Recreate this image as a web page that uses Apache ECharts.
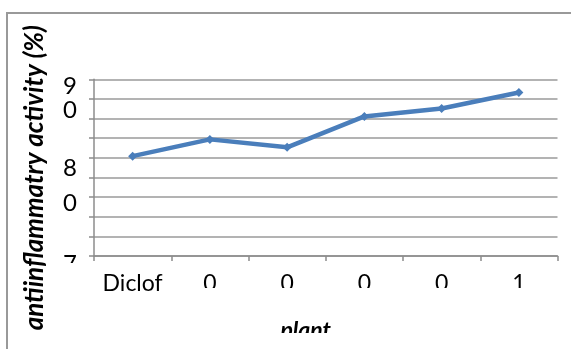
<!DOCTYPE html>
<html>
<head>
<meta charset="utf-8">
<script src="https://cdn.jsdelivr.net/npm/echarts@6/dist/echarts.min.js"></script>
<style>
  html, body { margin: 0; padding: 0; background: #fff; }
  #chart { width: 571px; height: 349px; }
</style>
</head>
<body>
<div id="chart"></div>
<script>
// Anti-inflammatory activity per plant sample
const categories = ['Diclofenac', '0', '0', '0', '0', '1'];
const activity = [81.3, 83.2, 82.3, 85.8, 86.7, 88.5];

// Value axis: labelled ticks and their text
const yTickValues = [70, 80, 90];
const yTickLabels = ['70', '80', '90'];
// Number of evenly spaced gridline bands across the value range
const gridBands = 9;

const FONT = 'Lato, "Open Sans", sans-serif';
const GRID_COLOR = '#9a9a9a';
const AXIS_COLOR = '#8c8c8c';

// wrapped tick labels: line heights of the first and second digit rows
const labelRows = { 70: [16, 44], 80: [1, 70], 90: [14, 34] };
const richStyles = {};
yTickValues.forEach(v => {
  richStyles['a' + v] = { fontSize: 24, lineHeight: labelRows[v][0], fontFamily: FONT, color: '#000' };
  richStyles['b' + v] = { fontSize: 24, lineHeight: labelRows[v][1], fontFamily: FONT, color: '#000' };
});

function wrapCategory(name) {
  return name.length > 6 ? name.slice(0, 6) + '\n' + name.slice(6) : name;
}

const chart = echarts.init(document.getElementById('chart'), null, { renderer: 'canvas' });

chart.setOption({
  animation: false,
  backgroundColor: '#fff',
  grid: { left: 94, right: 13.5, top: 79.3, bottom: 93, containLabel: false, outerBoundsMode: 'none' },
  xAxis: {
    type: 'category',
    data: categories,
    boundaryGap: true,
    axisLine: { show: true, lineStyle: { color: AXIS_COLOR, width: 1.5 } },
    axisTick: { show: true, alignWithLabel: false, length: 5, lineStyle: { color: AXIS_COLOR, width: 1.5 } },
    axisLabel: {
      interval: 0,
      margin: 13,
      fontSize: 23,
      lineHeight: 30,
      fontFamily: FONT,
      color: '#000',
      formatter: wrapCategory
    },
    splitLine: { show: false },
    name: 'plant',
    nameLocation: 'middle',
    nameGap: 63,
    nameMoveOverlap: false,
    nameTextStyle: {
      fontSize: 23, fontStyle: 'italic', fontWeight: 'bold', fontFamily: FONT, color: '#000',
      padding: [0, 40, 0, 0]
    }
  },
  yAxis: [
    {
      // labelled value axis carrying the series
      type: 'value',
      min: 70,
      max: 90,
      interval: 10,
      position: 'left',
      axisLine: { show: false },
      axisTick: { show: false },
      splitLine: { show: false },
      axisLabel: {
        margin: 17,
        verticalAlign: 'top',
        align: 'right',
        formatter: function (value) {
          const i = yTickValues.indexOf(value);
          if (i < 0) return '';
          const digits = yTickLabels[i].split('');
          return '{a' + value + '|' + digits[0] + '}\n{b' + value + '|' + digits.slice(1).join('') + '}';
        },
        rich: richStyles
      },
      name: 'antiinflammatry activity (%)',
      nameLocation: 'middle',
      nameGap: 46,
      nameRotate: 90,
      nameMoveOverlap: false,
      nameTextStyle: {
        fontSize: 26, fontStyle: 'italic', fontWeight: 'bold', fontFamily: FONT, color: '#000',
        padding: [0, 20, 0, 0]
      }
    },
    {
      // unlabelled axis that only draws the gridlines and ticks
      type: 'value',
      min: 0,
      max: gridBands,
      interval: 1,
      position: 'left',
      axisLine: { show: true, lineStyle: { color: AXIS_COLOR, width: 1.5 } },
      axisTick: { show: true, length: 5, lineStyle: { color: AXIS_COLOR, width: 1.5 } },
      axisLabel: { show: false },
      splitLine: { show: true, lineStyle: { color: GRID_COLOR, width: 1.5 } }
    }
  ],
  series: [{
    type: 'line',
    yAxisIndex: 0,
    data: activity,
    symbol: 'diamond',
    symbolSize: 9,
    showSymbol: true,
    lineStyle: { color: '#4a7ebb', width: 4.5 },
    itemStyle: { color: '#4a7ebb' },
    z: 5
  }],
  graphic: [
    // outer chart frame
    { type: 'rect', shape: { x: 7, y: 13, width: 700, height: 500 }, style: { fill: 'none', stroke: '#999', lineWidth: 2 }, z: 1 },
    // text boxes cut their wrapped lines short
    { type: 'rect', shape: { x: 55, y: 263, width: 36, height: 60 }, style: { fill: '#fff' }, z: 100 },
    { type: 'rect', shape: { x: 172, y: 288, width: 390, height: 30 }, style: { fill: '#fff' }, z: 100 },
    { type: 'rect', shape: { x: 95, y: 304, width: 76, height: 30 }, style: { fill: '#fff' }, z: 100 },
    { type: 'rect', shape: { x: 240, y: 333, width: 130, height: 16 }, style: { fill: '#fff' }, z: 100 }
  ]
});
</script>
</body>
</html>
